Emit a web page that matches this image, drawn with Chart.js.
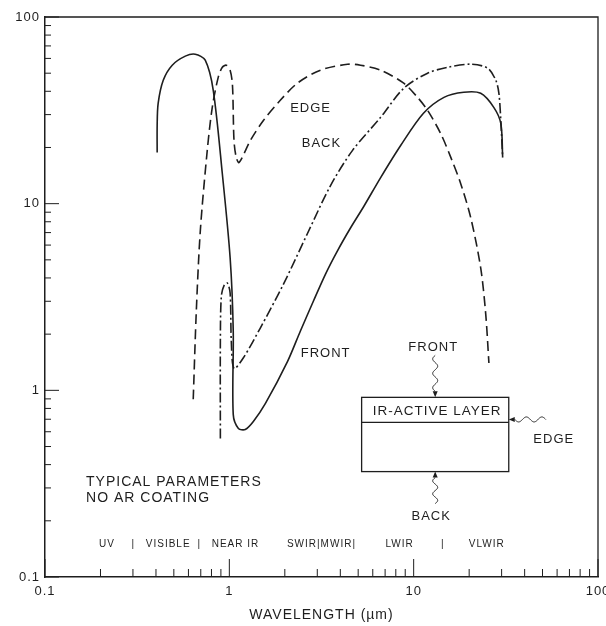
<!DOCTYPE html>
<html>
<head>
<meta charset="utf-8">
<script src="https://cdn.jsdelivr.net/npm/chart.js@4.4.1/dist/chart.umd.min.js"></script>
<style>
  body { margin: 0; background: #fff; }
  canvas { display: block; }
</style>
</head>
<body>
<canvas id="chart" width="606" height="626"></canvas>
<script>
// wavelength (um) / response pairs
const frontX = [0.406, 0.406, 0.411, 0.438, 0.490, 0.577, 0.653, 0.740, 0.818, 0.916, 1.01, 1.05, 1.05, 1.12, 1.22, 1.35, 1.57, 2.07, 2.43, 2.86, 3.33, 3.86, 4.55, 5.35, 6.62, 8.50, 11.3, 14.6, 18.7, 23.1, 27.2, 29.7, 30.4];
const frontY = [18.8, 26.3, 34.5, 45.8, 55.2, 61.7, 63.2, 58.7, 40.5, 14.5, 5.13, 2.08, 0.743, 0.625, 0.617, 0.681, 0.851, 1.43, 2.08, 3.01, 4.21, 5.59, 7.43, 9.63, 13.8, 20.5, 30.5, 37.1, 39.5, 39.0, 32.8, 26.9, 17.7];

const backX = [0.894, 0.894, 0.905, 0.939, 0.975, 1.01, 1.025, 1.06, 1.19, 1.47, 1.97, 2.65, 3.54, 4.66, 6.62, 8.83, 11.9, 15.3, 20.4, 25.2, 27.9, 29.0, 29.7, 30.4];
const backY = [0.552, 1.83, 3.20, 3.67, 3.76, 3.32, 1.83, 1.31, 1.49, 2.15, 3.72, 6.90, 12.5, 19.3, 29.0, 41.5, 50.0, 53.8, 55.9, 53.2, 45.8, 39.0, 27.9, 17.7];

const edgeX = [0.637, 0.662, 0.696, 0.759, 0.808, 0.871, 0.916, 0.963, 1.01, 1.04, 1.06, 1.09, 1.13, 1.30, 1.53, 1.89, 2.34, 3.12, 4.38, 5.15, 6.62, 8.83, 10.5, 11.9, 14.0, 15.9, 18.0, 20.4, 23.1, 24.6, 25.6];
const edgeY = [0.895, 2.66, 7.16, 19.3, 32.8, 47.6, 53.8, 55.2, 51.9, 43.1, 21.8, 17.7, 16.6, 21.8, 27.9, 35.8, 44.2, 51.9, 55.8, 55.2, 51.9, 44.2, 37.1, 31.6, 23.8, 17.7, 12.8, 8.41, 4.53, 2.56, 1.40];

const tickDecades = [0.1, 1, 10, 100];

const bandNames = ['UV', '|', 'VISIBLE', '|', 'NEAR IR', 'SWIR|MWIR|', 'LWIR', '|', 'VLWIR'];
const bandAt = [0.217, 0.301, 0.466, 0.687, 1.08, 3.16, 8.39, 14.4, 24.9];

const ink = '#1e1e1e';
const fontFamily = '"Liberation Sans", Arial, sans-serif';

const pts = (xs, ys) => xs.map((x, i) => ({ x: x, y: ys[i] }));

function squiggle(ctx, x0, y0, x1, y1, waves) {
  const len = Math.hypot(x1 - x0, y1 - y0);
  const ux = (x1 - x0) / len, uy = (y1 - y0) / len;
  ctx.beginPath();
  for (let s = 0; s <= len; s += 0.5) {
    const off = 2.5 * Math.sin(s / len * Math.PI * 2 * waves);
    const px = x0 + ux * s - uy * off;
    const py = y0 + uy * s + ux * off;
    if (s === 0) ctx.moveTo(px, py); else ctx.lineTo(px, py);
  }
  ctx.stroke();
}

function arrowHead(ctx, x, y, dx, dy) {
  ctx.beginPath();
  ctx.moveTo(x, y);
  ctx.lineTo(x - dx * 6 - dy * 2.5, y - dy * 6 + dx * 2.5);
  ctx.lineTo(x - dx * 6 + dy * 2.5, y - dy * 6 - dx * 2.5);
  ctx.closePath();
  ctx.fill();
}

const spacing = {
  id: 'spacing',
  beforeDraw(chart) {
    chart.ctx.letterSpacing = '1px';
  }
};

const notes = {
  id: 'notes',
  afterDraw(chart) {
    const { ctx, chartArea: a, scales } = chart;
    const X = v => scales.x.getPixelForValue(v);
    const Y = v => scales.y.getPixelForValue(v);
    ctx.save();
    ctx.strokeStyle = ink;
    ctx.fillStyle = ink;
    ctx.setLineDash([]);

    // top and right frame
    ctx.lineWidth = 1.3;
    ctx.beginPath();
    ctx.moveTo(a.left, a.top);
    ctx.lineTo(a.right, a.top);
    ctx.lineTo(a.right, a.bottom);
    ctx.stroke();

    // inward tick marks
    ctx.lineWidth = 1;
    tickDecades.forEach(d => {
      for (let m = 1; m <= 9; m++) {
        const v = d * m;
        if (v > 100.001) break;
        const major = m === 1;
        const px = X(v);
        ctx.beginPath();
        ctx.moveTo(px, a.bottom);
        ctx.lineTo(px, a.bottom - (major ? 18 : 8));
        ctx.stroke();
        const py = Y(v);
        ctx.beginPath();
        ctx.moveTo(a.left, py);
        ctx.lineTo(a.left + (major ? 14 : 6), py);
        ctx.stroke();
      }
    });

    ctx.letterSpacing = '1px';
    ctx.textBaseline = 'middle';
    const text = (s, x, y, size, align) => {
      ctx.font = size + 'px ' + fontFamily;
      ctx.textAlign = align || 'center';
      ctx.fillText(s, x, y);
    };

    // curve labels
    text('EDGE', X(2.76), Y(32.4), 13);
    text('BACK', X(3.16), Y(21.0), 13);
    text('FRONT', X(3.33), Y(1.58), 13);

    text('TYPICAL PARAMETERS', X(0.167), Y(0.324), 14, 'left');
    text('NO AR COATING', X(0.167), Y(0.263), 14, 'left');

    // spectral bands
    bandNames.forEach((b, i) => text(b, X(bandAt[i]), Y(0.150), 10));

    // inset: IR-active layer on substrate
    const bl = X(5.22), br = X(32.8), bt = Y(0.917), bd = Y(0.673), bb = Y(0.367);
    const cx = (bl + br) / 2;
    ctx.lineWidth = 1.3;
    ctx.strokeRect(bl, bt, br - bl, bb - bt);
    ctx.beginPath();
    ctx.moveTo(bl, bd);
    ctx.lineTo(br, bd);
    ctx.stroke();
    text('IR-ACTIVE LAYER', cx + 2, (bt + bd) / 2 + 1, 13.5);

    ctx.lineWidth = 1;
    squiggle(ctx, cx, bt - 42, cx, bt - 6, 2.5);
    arrowHead(ctx, cx, bt, 0, 1);
    text('FRONT', cx - 2, bt - 50, 13);

    squiggle(ctx, br + 37, bd - 3, br + 6, bd - 3, 2);
    arrowHead(ctx, br, bd - 3, -1, 0);
    text('EDGE', br + 45, bd + 17, 13);

    squiggle(ctx, cx, bb + 32, cx, bb + 6, 2);
    arrowHead(ctx, cx, bb, 0, -1);
    text('BACK', cx - 4, bb + 45, 13);

    ctx.restore();
  }
};

const lineStyle = {
  showLine: true,
  pointRadius: 0,
  borderColor: ink,
  borderWidth: 1.6,
  tension: 0.3,
  fill: false
};

new Chart(document.getElementById('chart').getContext('2d'), {
  type: 'scatter',
  data: {
    datasets: [
      Object.assign({ label: 'FRONT', data: pts(frontX, frontY), borderDash: [] }, lineStyle),
      Object.assign({ label: 'BACK', data: pts(backX, backY), borderDash: [10, 3, 2, 3] }, lineStyle),
      Object.assign({ label: 'EDGE', data: pts(edgeX, edgeY), borderDash: [10, 5] }, lineStyle)
    ]
  },
  options: {
    responsive: false,
    animation: false,
    layout: { padding: { top: 17, right: 8, left: 0, bottom: 0 } },
    plugins: {
      legend: { display: false },
      tooltip: { enabled: false }
    },
    scales: {
      x: {
        type: 'logarithmic',
        min: 0.1,
        max: 100,
        grid: { display: false, drawTicks: false },
        border: { color: ink, width: 1.5 },
        afterBuildTicks: s => { s.ticks = tickDecades.map(v => ({ value: v })); },
        afterFit: s => { s.height = 49; s.paddingLeft = 0; s.paddingRight = 0; },
        ticks: {
          autoSkip: false,
          maxRotation: 0,
          padding: 7,
          color: ink,
          font: { family: fontFamily, size: 13 },
          callback: v => String(v)
        },
        title: {
          display: true,
          text: 'WAVELENGTH (µm)',
          color: ink,
          font: { family: fontFamily, size: 14 },
          padding: { top: 0, bottom: 2 }
        }
      },
      y: {
        type: 'logarithmic',
        min: 0.1,
        max: 100,
        grid: { display: false, drawTicks: false },
        border: { color: ink, width: 1.5 },
        afterBuildTicks: s => { s.ticks = tickDecades.map(v => ({ value: v })); },
        afterFit: s => { s.width = 45; },
        ticks: {
          autoSkip: false,
          padding: 5,
          color: ink,
          font: { family: fontFamily, size: 13 },
          callback: v => String(v)
        }
      }
    }
  },
  plugins: [spacing, notes]
});
</script>
</body>
</html>
